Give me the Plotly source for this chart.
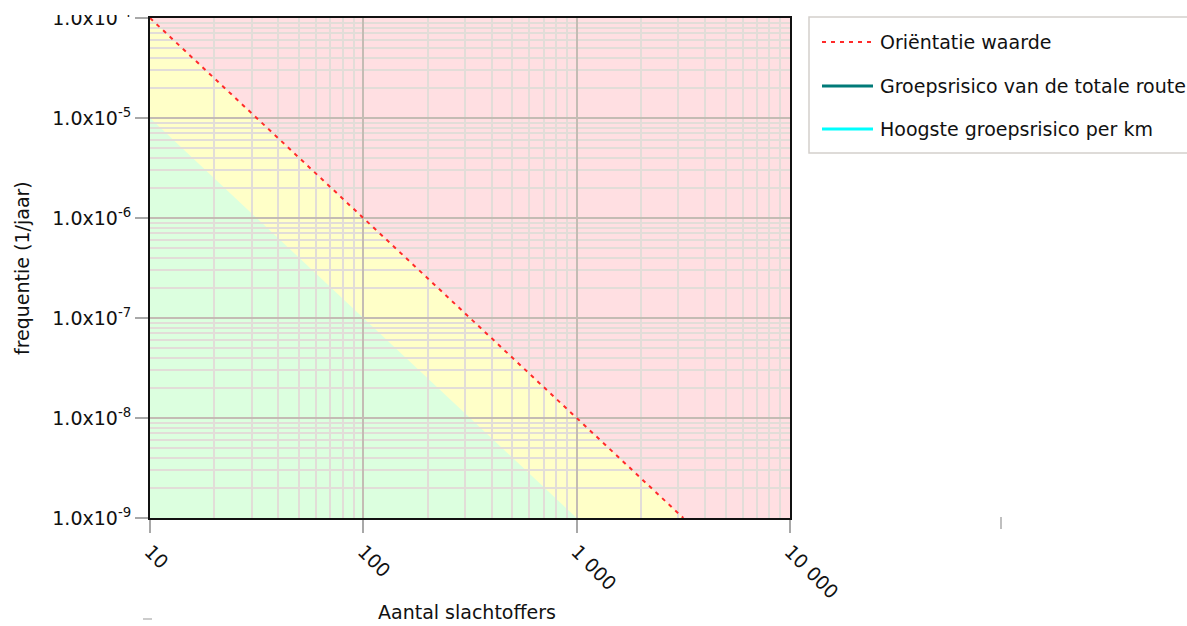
import plotly.graph_objects as go

# ---- data ----
N_orient = [10, 100, 1000, 3162]
F_orient = [1e-4, 1e-6, 1e-8, 1e-9]
N_green = [10, 100, 1000]
F_green = [1e-5, 1e-7, 1e-9]
N_route = []
F_route = []
N_km = []
F_km = []
x_tickvals = [10, 100, 1000, 10000]
x_ticktext = ["10", "100", "1 000", "10 000"]
y_tickvals = [1e-9, 1e-8, 1e-7, 1e-6, 1e-5, 1e-4]
y_ticktext = ["1.0x10<sup>-9</sup>", "1.0x10<sup>-8</sup>", "1.0x10<sup>-7</sup>",
              "1.0x10<sup>-6</sup>", "1.0x10<sup>-5</sup>", "1.0x10<sup>-4</sup>"]
legend_names = ["Oriëntatie waarde", "Groepsrisico van de totale route", "Hoogste groepsrisico per km"]
legend_colors = ["#ff2a2a", "#007a78", "#00ffff"]

W, H = 1187, 626
ML, MR, MT, MB = 150, 397, 18, 108
FONT = "DejaVu Sans"
PINK = "#ffdfe2"
YELLOW = "#ffffc8"
GREEN = "#dcffdf"

xmin, xmax = 10, 10000
ymin, ymax = 1e-9, 1e-4


def poly_path(xs, ys):
    pts = " L ".join(f"{x} {y}" for x, y in zip(xs, ys))
    return "M " + pts + " Z"


fig = go.Figure()

fig.add_trace(go.Scatter(x=N_orient, y=F_orient, mode="lines", name=legend_names[0],
                         line=dict(color=legend_colors[0], width=2, dash="4px,5px"),
                         showlegend=False))
fig.add_trace(go.Scatter(x=N_route, y=F_route, mode="lines", name=legend_names[1],
                         line=dict(color=legend_colors[1], width=3), showlegend=False))
fig.add_trace(go.Scatter(x=N_km, y=F_km, mode="lines", name=legend_names[2],
                         line=dict(color=legend_colors[2], width=3), showlegend=False))

shapes = []
# yellow zone below orientation line
shapes.append(dict(type="path", xref="x", yref="y", layer="below",
                   path=poly_path(N_orient + [xmin], F_orient + [ymin]),
                   fillcolor=YELLOW, line=dict(width=0)))
# green zone
shapes.append(dict(type="path", xref="x", yref="y", layer="below",
                   path=poly_path(N_green + [xmin], F_green + [ymin]),
                   fillcolor=GREEN, line=dict(width=0)))

pw = W - ML - MR
ph = H - MT - MB


def px2x(px):
    return (px - ML) / pw


def px2y(py):
    return (H - MB - py) / ph


# legend box
shapes.append(dict(type="rect", xref="paper", yref="paper", layer="above",
                   x0=px2x(809), x1=px2x(1200), y0=px2y(153), y1=px2y(17),
                   fillcolor="white", line=dict(color="#d4d0cc", width=1.5)))
annotations = []
legend_y = [42, 86, 129]
for i, (name, col) in enumerate(zip(legend_names, legend_colors)):
    yy = px2y(legend_y[i])
    shapes.append(dict(type="line", xref="paper", yref="paper", layer="above",
                       x0=px2x(822), x1=px2x(873), y0=yy, y1=yy,
                       line=dict(color=col, width=2 if i == 0 else 3,
                                 dash="4px,5px" if i == 0 else "solid")))
    annotations.append(dict(xref="paper", yref="paper", x=px2x(878), y=yy,
                            text=name, showarrow=False, xanchor="left", yanchor="middle",
                            font=dict(family=FONT, size=19, color="#111")))

# white strip clipping top label like reference
shapes.append(dict(type="rect", xref="paper", yref="paper", layer="above",
                   x0=px2x(0), x1=px2x(136), y0=px2y(15), y1=px2y(-5),
                   fillcolor="white", line=dict(width=0)))
# stray marks
shapes.append(dict(type="line", xref="paper", yref="paper", layer="above",
                   x0=px2x(1001), x1=px2x(1001), y0=px2y(517), y1=px2y(529),
                   line=dict(color="#aaaaaa", width=1.5)))
shapes.append(dict(type="line", xref="paper", yref="paper", layer="above",
                   x0=px2x(143), x1=px2x(152), y0=px2y(619), y1=px2y(619),
                   line=dict(color="#bbbbbb", width=1.5)))

# axis titles
annotations.append(dict(xref="paper", yref="paper", x=px2x(467), y=px2y(612),
                        text="Aantal slachtoffers", showarrow=False,
                        xanchor="center", yanchor="middle",
                        font=dict(family=FONT, size=19, color="#111")))
annotations.append(dict(xref="paper", yref="paper", x=px2x(22), y=px2y(268),
                        text="frequentie (1/jaar)", showarrow=False, textangle=-90,
                        xanchor="center", yanchor="middle",
                        font=dict(family=FONT, size=19, color="#111")))

fig.update_layout(
    width=W, height=H,
    margin=dict(l=ML, r=MR, t=MT, b=MB, autoexpand=False),
    paper_bgcolor="white", plot_bgcolor=PINK,
    showlegend=False,
    shapes=shapes, annotations=annotations,
    font=dict(family=FONT, size=19, color="#111"),
)
fig.update_xaxes(type="log", range=[1, 4], tickmode="array", tickvals=x_tickvals,
                 ticktext=x_ticktext, tickangle=45,
                 showgrid=True, gridcolor="#c4bcb4", gridwidth=2,
                 minor=dict(dtick="D1", showgrid=True, gridcolor="#e2ddd8", gridwidth=2, ticks=""),
                 ticks="outside", ticklen=13, tickwidth=2, tickcolor="#a8a8a8",
                 showline=True, linecolor="#111", linewidth=2, mirror=True,
                 zeroline=False, tickfont=dict(family=FONT, size=19, color="#111"))
fig.update_yaxes(type="log", range=[-9, -4], tickmode="array", tickvals=y_tickvals,
                 ticktext=y_ticktext,
                 showgrid=True, gridcolor="#c4bcb4", gridwidth=2,
                 minor=dict(dtick="D1", showgrid=True, gridcolor="#e2ddd8", gridwidth=2, ticks=""),
                 ticks="outside", ticklen=13, tickwidth=2, tickcolor="#a8a8a8",
                 showline=True, linecolor="#111", linewidth=2, mirror=True,
                 zeroline=False, tickfont=dict(family=FONT, size=19, color="#111"))

fig.write_html("out.html")
